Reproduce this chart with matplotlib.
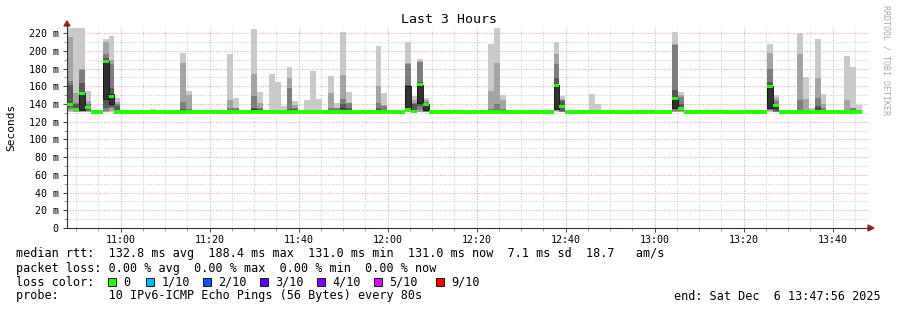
import matplotlib
matplotlib.use('Agg')
import matplotlib.pyplot as plt
from matplotlib.lines import Line2D
from matplotlib.patches import Rectangle, Polygon
from matplotlib.ticker import FixedLocator, MultipleLocator

W, H = 897, 310
STEP = 80            # seconds between probe rounds
START = '10:47:56'   # left edge of the graph
SPAN = 3 * 3600
N_STEPS = 134
BASE_RTT = 131.0     # ms, the flat median

# rounds that had smoke: step index, 10 sorted pings (ms), median (ms)
spike_steps = [0, 1, 2, 3, 6, 7, 8, 14, 19, 20, 27, 28, 31, 32, 34, 35, 36, 37, 38,
               40, 41, 42, 44, 45, 46, 47, 52, 53, 57, 58, 59, 60, 71, 72, 73,
               82, 83, 88, 89, 102, 103, 118, 119, 123, 124, 125, 126, 127,
               131, 132, 133]
spike_pings = [
    [131, 132, 134, 137, 138, 141, 161, 166, 216, 226],
    [131, 131, 132, 133, 133, 135, 140, 141, 152, 226],
    [131, 131, 132, 133, 133, 152, 164, 178, 180, 226],
    [131, 131, 132, 133, 134, 137, 138, 140, 143, 155],
    [131, 131, 132, 136, 146, 189, 192, 196, 210, 214],
    [131, 132, 135, 137, 140, 151, 158, 185, 190, 217],
    [131, 131, 131, 131, 131, 133, 138, 140, 142, 147],
    [131, 131, 131, 131, 131, 131, 131, 131, 131, 134],
    [131, 131, 131, 131, 132, 133, 134, 142, 186, 198],
    [131, 131, 131, 131, 131, 131, 131, 134, 150, 155],
    [131, 131, 131, 131, 131, 131, 131, 135, 145, 196],
    [131, 131, 131, 131, 131, 131, 131, 135, 136, 147],
    [131, 131, 131, 131, 132, 134, 135, 149, 174, 225],
    [131, 131, 131, 131, 131, 133, 134, 135, 141, 154],
    [131, 131, 131, 131, 131, 131, 131, 131, 132, 174],
    [131, 131, 131, 131, 131, 131, 131, 131, 132, 165],
    [131, 131, 131, 131, 131, 131, 131, 131, 132, 138],
    [131, 131, 131, 132, 133, 133, 134, 158, 169, 182],
    [131, 131, 131, 131, 131, 132, 134, 136, 139, 143],
    [131, 131, 131, 131, 131, 131, 131, 131, 131, 145],
    [131, 131, 131, 131, 131, 131, 131, 131, 131, 177],
    [131, 131, 131, 131, 131, 131, 131, 131, 131, 146],
    [131, 131, 131, 131, 131, 132, 133, 135, 153, 172],
    [131, 131, 131, 131, 131, 132, 133, 135, 135, 141],
    [131, 131, 131, 132, 134, 136, 140, 146, 173, 221],
    [131, 131, 131, 131, 132, 133, 135, 141, 141, 154],
    [131, 131, 131, 131, 131, 132, 136, 141, 160, 205],
    [131, 131, 131, 131, 131, 131, 132, 138, 139, 152],
    [131, 131, 132, 132, 133, 160, 161, 185, 186, 210],
    [131, 131, 131, 131, 131, 132, 140, 141, 145, 149],
    [131, 131, 133, 138, 141, 162, 165, 187, 189, 191],
    [131, 131, 131, 132, 133, 140, 141, 142, 145, 147],
    [131, 131, 131, 131, 131, 132, 133, 134, 155, 208],
    [131, 131, 131, 131, 131, 132, 133, 140, 186, 226],
    [131, 131, 131, 131, 131, 131, 132, 134, 144, 150],
    [131, 132, 133, 134, 134, 161, 169, 185, 196, 210],
    [131, 131, 131, 132, 136, 139, 143, 144, 146, 149],
    [131, 131, 131, 131, 131, 131, 131, 131, 131, 151],
    [131, 131, 131, 131, 131, 131, 131, 131, 131, 140],
    [131, 131, 132, 134, 135, 146, 156, 207, 208, 221.5],
    [131, 131, 132, 133, 134, 135, 140, 148, 150, 154],
    [131, 132, 133, 134, 135, 160, 165, 180, 198, 208],
    [131, 131, 131, 132, 134, 138, 140, 143, 147, 150],
    [131, 131, 131, 131, 132, 132, 133, 145, 196, 220],
    [131, 131, 131, 131, 131, 131, 132, 133, 146, 170],
    [131, 131, 131, 131, 131, 131, 131, 131, 131, 135.5],
    [131, 131, 131, 133, 134, 135, 138, 147, 169, 213],
    [131, 131, 131, 131, 131, 131, 133, 135, 140, 151.5],
    [131, 131, 131, 131, 131, 131, 132, 133, 145, 194],
    [131, 131, 131, 131, 131, 132, 133, 135, 136, 182],
    [131, 131, 131, 131, 131, 131, 131, 131, 131, 139],
]
spike_median = [139.5, 134, 152, 136.5, 188, 148, 131, 131, 131, 131, 131, 131, 131, 131,
                131, 131, 131, 131, 131, 131, 131, 131, 131, 131, 131, 131, 131, 131,
                134, 132, 162, 140, 131, 131, 131, 160.5, 137.5, 131, 131, 146, 135,
                160, 138, 131, 131, 131, 131, 131, 131, 131, 131]

x_tick_labels = ['11:00', '11:20', '11:40', '12:00', '12:20', '12:40', '13:00', '13:20', '13:40']
y_ticks = [0, 20, 40, 60, 80, 100, 120, 140, 160, 180, 200, 220]

loss_labels = ['0', '1/10', '2/10', '3/10', '4/10', '5/10', '9/10']
loss_colors = ['#26ff00', '#00b8ff', '#0059ff', '#5e00ff', '#7e00ff', '#dd00ff', '#ff0000']
smoke_colors = ['#cacaca', '#a4a4a4', '#7e7e7e', '#585858', '#323232']

MONO = 'DejaVu Sans Mono'
plt.rcParams['font.family'] = MONO


def secs(hhmm):
    parts = [int(p) for p in hhmm.split(':')]
    while len(parts) < 3:
        parts.append(0)
    return parts[0] * 3600 + parts[1] * 60 + parts[2]


def fx(x):
    return x / W


def fy(y):
    return 1 - y / H


t0 = secs(START)

fig = plt.figure(figsize=(W / 100, H / 100), dpi=100)
fig.patch.set_facecolor('white')
ax = fig.add_axes((fx(67), fy(228), 801 / W, 201 / H))
ax.set_facecolor('white')

# smoke, outer pair of pings first, inner pair darkest on top
xs = [i * STEP for i in spike_steps]
for k, col in enumerate(smoke_colors):
    bottoms = [p[k] for p in spike_pings]
    heights = [p[9 - k] - p[k] for p in spike_pings]
    if k == 4:
        # the inner band has a dark outline when it is tall enough
        tall = [h > 4 for h in heights]
        ax.bar([x for x, t in zip(xs, tall) if t], [h for h, t in zip(heights, tall) if t],
               bottom=[b for b, t in zip(bottoms, tall) if t], width=STEP, align='edge',
               color=col, edgecolor='#111111', linewidth=0.6, zorder=2)
        ax.bar([x for x, t in zip(xs, tall) if not t],
               [h for h, t in zip(heights, tall) if not t],
               bottom=[b for b, t in zip(bottoms, tall) if not t], width=STEP,
               align='edge', color=col, linewidth=0, antialiased=False, zorder=2)
    else:
        ax.bar(xs, heights, bottom=bottoms, width=STEP, align='edge', color=col,
               linewidth=0, antialiased=False, zorder=2)

# median as a thin band per step
median = [BASE_RTT] * N_STEPS
for i, m in zip(spike_steps, spike_median):
    median[i] = m
ax.bar([i * STEP for i in range(N_STEPS)], 3.4, bottom=[m - 1.7 for m in median],
       width=STEP, align='edge', color=loss_colors[0], linewidth=0,
       antialiased=False, zorder=3)

ax.set_xlim(0, SPAN)
ax.set_ylim(0, 227)

major_x = [secs(l) - t0 for l in x_tick_labels]
ax.xaxis.set_major_locator(FixedLocator(major_x))
ax.set_xticklabels(x_tick_labels)
ax.xaxis.set_minor_locator(FixedLocator(list(range(secs('10:50') - t0, SPAN, 300))))
ax.set_yticks(y_ticks)
ax.set_yticklabels(['0' if v == 0 else '%d m' % v for v in y_ticks])
ax.yaxis.set_minor_locator(MultipleLocator(10))

ax.set_axisbelow(True)
dots = (0, (1, 1.5))
ax.grid(which='major', color='#eda3a3', linestyle=dots, linewidth=0.75)
ax.grid(which='minor', color='#cfcfcf', linestyle=dots, linewidth=0.75)

ax.tick_params(which='major', length=3, width=0.7, color='#444', labelsize=7.2, pad=3)
ax.tick_params(which='minor', length=2, width=0.6, color='#888')
ax.tick_params(axis='x', pad=2)

for s in ['top', 'right']:
    ax.spines[s].set_visible(False)
for s in ['left', 'bottom']:
    ax.spines[s].set_color('#333')
    ax.spines[s].set_linewidth(0.8)

# axis extensions and arrows
fig.add_artist(Line2D([fx(67), fx(67)], [fy(27), fy(24)], color='#333', lw=0.8))
fig.add_artist(Line2D([fx(868), fx(870)], [fy(228), fy(228)], color='#333', lw=0.8))
fig.add_artist(Polygon([(fx(64), fy(26)), (fx(70), fy(26)), (fx(67), fy(21))],
                       closed=True, color='#962828', transform=fig.transFigure))
fig.add_artist(Polygon([(fx(868), fy(225)), (fx(868), fy(231)), (fx(874), fy(228))],
                       closed=True, color='#962828', transform=fig.transFigure))

fig.text(fx(448.5), fy(19.5), 'Last 3 Hours', ha='center', va='center', fontsize=9.5)
fig.text(fx(11), fy(127.5), 'Seconds', ha='center', va='center', rotation=90, fontsize=8)
fig.text(fx(886), fy(60), 'RRDTOOL / TOBI OETIKER', ha='center', va='center',
         rotation=270, fontsize=6, color='#aaaaaa')

# legend
LEG = 8.5
fig.text(fx(16), fy(254), 'median rtt:  132.8 ms avg  188.4 ms max  131.0 ms min  '
         '131.0 ms now  7.1 ms sd  18.7   am/s', va='center', fontsize=LEG)
fig.text(fx(16), fy(268.5), 'packet loss: 0.00 % avg  0.00 % max  0.00 % min  0.00 % now',
         va='center', fontsize=LEG)
fig.text(fx(16), fy(282), 'loss color:', va='center', fontsize=LEG)
box_x = [108, 146, 203, 260, 317, 374, 436]
for bx, lab, col in zip(box_x, loss_labels, loss_colors):
    fig.add_artist(Rectangle((fx(bx), fy(285.8)), 7.5 / W, 7.5 / H, facecolor=col,
                             edgecolor='black', linewidth=0.6, transform=fig.transFigure))
    fig.text(fx(bx + 15.5), fy(282), lab, va='center', fontsize=LEG)
fig.text(fx(16), fy(296), 'probe:       10 IPv6-ICMP Echo Pings (56 Bytes) every 80s',
         va='center', fontsize=LEG)
fig.text(fx(881), fy(296), 'end: Sat Dec  6 13:47:56 2025', ha='right', va='center',
         fontsize=LEG)

fig.savefig('out.png', dpi=100, facecolor='white')
plt.close(fig)
